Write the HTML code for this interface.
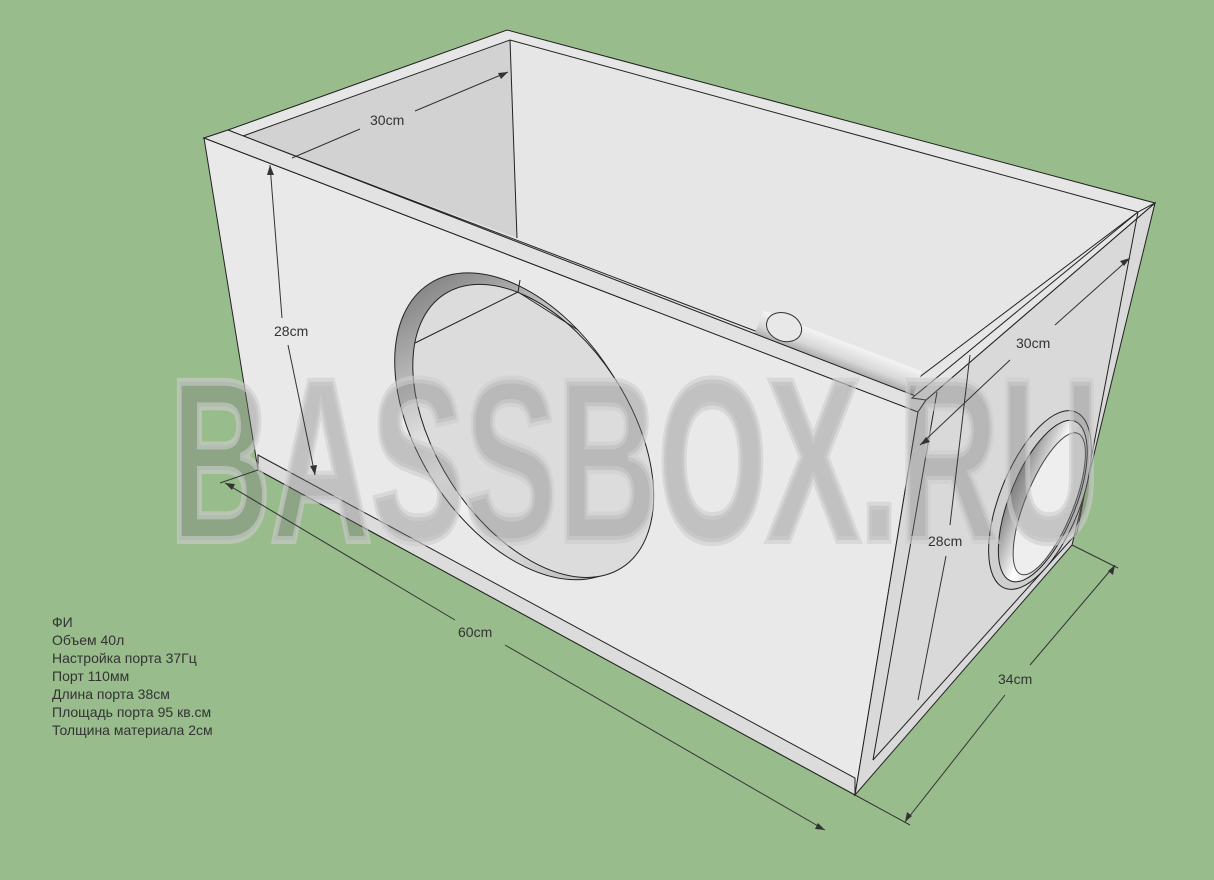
<!DOCTYPE html>
<html><head><meta charset="utf-8"><style>
html,body{margin:0;padding:0;background:#98bc8c;}
svg{display:block}
.t{font-family:"Liberation Sans",sans-serif;font-size:14px;fill:#333}
</style></head><body>
<svg width="1214" height="880" viewBox="0 0 1214 880" xmlns="http://www.w3.org/2000/svg">
<defs>
<linearGradient id="rim" x1="0" y1="0" x2="1" y2="0">
<stop offset="0" stop-color="#888"/><stop offset="0.5" stop-color="#fff"/><stop offset="1" stop-color="#bbb"/>
</linearGradient>
<linearGradient id="tube" x1="0" y1="0" x2="0" y2="1">
<stop offset="0" stop-color="#f4f4f4"/><stop offset="0.6" stop-color="#d8d8d8"/><stop offset="1" stop-color="#a8a8a8"/>
</linearGradient>
</defs>
<rect width="1214" height="880" fill="#98bc8c"/>
<polygon points="228,130 507,30 1155,203 918,400 204,138" fill="#e6e6e6" stroke="#222" stroke-width="1"/>
<polygon points="243,136 510,40 517,238" fill="#d2d2d2"/>
<line x1="510" y1="40" x2="517" y2="238" stroke="#222"/>
<line x1="228" y1="130" x2="243" y2="136" stroke="#222"/>
<polyline points="243,136 510,40 1138,212 905,388" fill="none" stroke="#222"/>
<line x1="243" y1="136" x2="905" y2="388" stroke="#222"/>
<g transform="rotate(21 760 320)">
<rect x="760" y="310" width="170" height="26" fill="url(#tube)"/>
<ellipse cx="785" cy="318" rx="18" ry="14" fill="#e8e8e8" stroke="#333"/>
</g>
<!-- front face -->
<polygon points="204,138 918,412 855,795 258,470" fill="#e9e9e9" stroke="#222"/>
<polygon points="204,138 918,412 926,400 228,130" fill="#e2e2e2" stroke="#222"/>
<polygon points="258,455 855,778 855,795 258,470" fill="#dcdcdc" stroke="#222"/>
<!-- right side face -->
<polygon points="918,412 926,400 1155,203 1072,545 855,795" fill="#d9d9d9" stroke="#222"/>
<polygon points="926,400 1155,203 1138,212 912,398" fill="#e6e6e6" stroke="#222"/>
<line x1="937" y1="392" x2="873" y2="760" stroke="#222"/>
<line x1="1138" y1="212" x2="1077" y2="533" stroke="#222"/>
<line x1="873" y1="760" x2="1077" y2="533" stroke="#222"/>
<g transform="rotate(22 1040 500)">
<ellipse cx="1040" cy="500" rx="40" ry="95" fill="#cfcfcf" stroke="#222"/>
<ellipse cx="1043" cy="500" rx="33" ry="86" fill="url(#rim)" stroke="#222"/>
<ellipse cx="1050" cy="500" rx="24" ry="76" fill="#eee" stroke="#444"/>
</g>
<g transform="rotate(57 523 428)">
<ellipse cx="521" cy="428" rx="170" ry="104" fill="url(#rim)" stroke="#222"/>
<ellipse cx="531" cy="421" rx="163" ry="97" fill="#dcdcdc" stroke="#222"/>
</g>
<polyline points="415,343 518,292 520,280" fill="none" stroke="#222"/>
<line x1="518" y1="292" x2="578" y2="330" stroke="#222"/>
<text x="170" y="540" textLength="930" lengthAdjust="spacingAndGlyphs" font-family="Liberation Sans,sans-serif" font-weight="bold" font-size="230" fill="rgba(120,120,120,0.35)" stroke="rgba(205,205,205,0.6)" stroke-width="8">BASSBOX.RU</text>
<g stroke="#333" stroke-width="1" fill="none">
<line x1="292" y1="158" x2="360" y2="129"/><line x1="415" y1="111" x2="508" y2="72"/>
<line x1="270" y1="165" x2="282" y2="318"/><line x1="288" y1="345" x2="315" y2="475"/>
<line x1="225" y1="483" x2="455" y2="620"/><line x1="505" y1="645" x2="825" y2="830"/>
<line x1="920" y1="445" x2="1010" y2="360"/><line x1="1055" y1="325" x2="1130" y2="258"/>
<line x1="970" y1="355" x2="950" y2="525"/><line x1="946" y1="556" x2="918" y2="700"/>
<line x1="905" y1="822" x2="1005" y2="695"/><line x1="1030" y1="665" x2="1115" y2="565"/>
<line x1="855" y1="795" x2="910" y2="825"/><line x1="1072" y1="545" x2="1118" y2="568"/>
<line x1="258" y1="470" x2="220" y2="483"/>
</g>
<g fill="#333">
<polygon points="508,72 498,73 501,79"/>
<polygon points="270,165 267,175 274,175"/><polygon points="315,475 310,466 317,465"/>
<polygon points="225,483 235,484 232,490"/><polygon points="825,830 815,829 818,823"/>
<polygon points="1130,258 1124,266 1120,261"/><polygon points="920,445 926,437 930,442"/>
<polygon points="905,822 907,812 912,816"/><polygon points="1115,565 1113,575 1108,571"/>
</g>
<g class="t">
<text x="370" y="125">30cm</text>
<text x="274" y="336">28cm</text>
<text x="458" y="637">60cm</text>
<text x="1016" y="348">30cm</text>
<text x="928" y="546">28cm</text>
<text x="998" y="684">34cm</text>
<text x="52" y="627">ФИ</text>
<text x="52" y="645">Объем 40л</text>
<text x="52" y="663">Настройка порта 37Гц</text>
<text x="52" y="681">Порт 110мм</text>
<text x="52" y="699">Длина порта 38см</text>
<text x="52" y="717">Площадь порта 95 кв.см</text>
<text x="52" y="735">Толщина материала 2см</text>
</g>
</svg>
</body></html>
